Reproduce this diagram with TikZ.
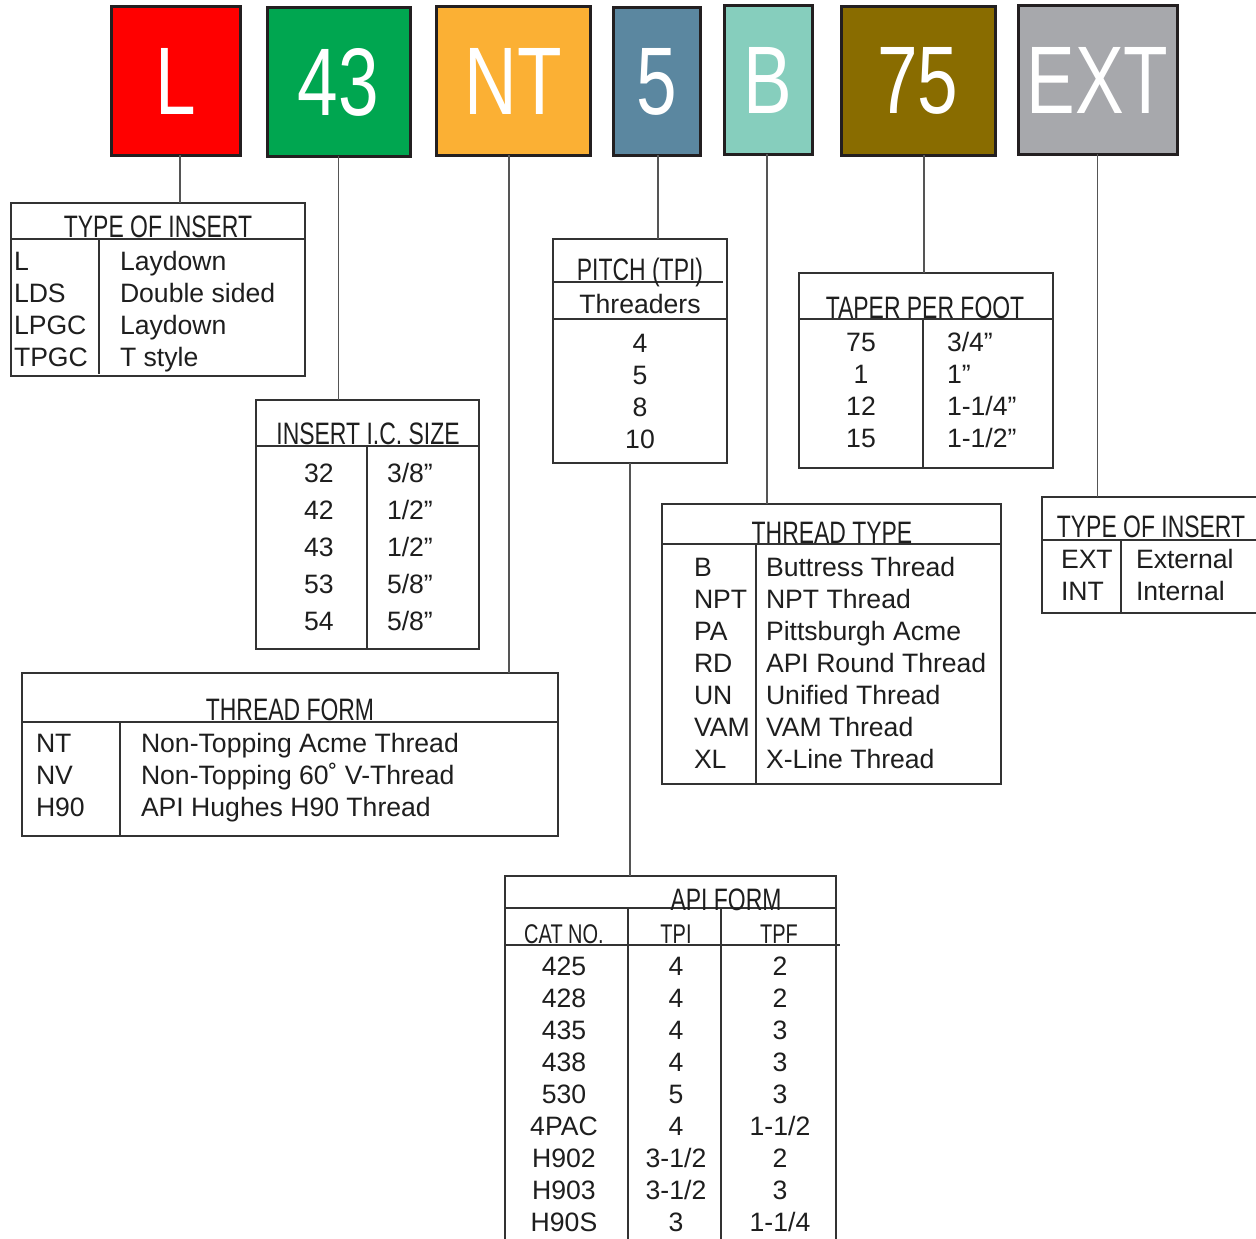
\documentclass[tikz,border=0pt]{standalone}
\usepackage{fontspec}
\setmainfont{Liberation Sans}
\newfontfamily\condfont[FakeStretch=0.74]{Liberation Sans}
\newfontfamily\bigfont[FakeStretch=0.76]{Liberation Sans}
\definecolor{cL}{HTML}{FF0000}
\definecolor{cFT}{HTML}{00A650}
\definecolor{cNT}{HTML}{FBB034}
\definecolor{cFV}{HTML}{5B87A0}
\definecolor{cB}{HTML}{86CEBD}
\definecolor{cSF}{HTML}{896C00}
\definecolor{cEXT}{HTML}{A7A8AC}
\definecolor{boxedge}{HTML}{231F20}
\definecolor{tbledge}{HTML}{333333}
\definecolor{connc}{HTML}{555555}
\definecolor{ink}{HTML}{1E1E1E}
\begin{document}
\begin{tikzpicture}[x=1pt,y=-1pt,
  every node/.style={inner sep=0pt, outer sep=0pt},
  topbox/.style={draw=boxedge, line width=3pt, text=white, font=\bigfont\fontsize{96}{96}\selectfont},
  tbl/.style={draw=tbledge, line width=1.3pt, anchor=north west},
  rule/.style={draw=tbledge, line width=1.3pt},
  conn/.style={draw=connc, line width=1.3pt},
  ttl/.style={anchor=base, font=\condfont\fontsize{31}{31}\selectfont, text=ink},
  subttl/.style={anchor=base, font=\condfont\fontsize{27}{27}\selectfont, text=ink},
  cell/.style={anchor=base, font=\fontsize{26.6}{26.6}\selectfont, text=ink},
  cellw/.style={cell, anchor=base west},
]
\useasboundingbox (0,0) rectangle (1256,1239);
\clip (0,0) rectangle (1256,1239);
\fill[white] (0,0) rectangle (1256,1239);

% ---- top code boxes ----
\node[topbox, fill=cL,   minimum width=129pt, minimum height=148pt] (bL)   at (175.5,81) {L};
\node[topbox, fill=cFT,  minimum width=143pt, minimum height=148pt] (bFT)  at (338.5,82) {43};
\node[topbox, fill=cNT,  minimum width=154pt, minimum height=148pt] (bNT)  at (513,81)   {NT};
\node[topbox, fill=cFV,  minimum width=87pt,  minimum height=147pt] (bFV)  at (656.5,81.5) {5};
\node[topbox, fill=cB,   minimum width=88pt,  minimum height=148pt] (bB)   at (768,80)   {B};
\node[topbox, fill=cSF,  minimum width=154pt, minimum height=148pt] (bSF)  at (918,81)   {75};
\node[topbox, fill=cEXT, minimum width=159pt, minimum height=148pt] (bEXT) at (1097.5,80) {EXT};

% ---- TYPE OF INSERT (left) ----
\node[tbl, minimum width=294pt, minimum height=173pt] (tIns) at (11,203) {};
\draw[rule] (11,239) -- (305,239);
\draw[rule] (99,239) -- (99,374);
\node[ttl] (tInsT) at (158,237) {TYPE OF INSERT};
\node[cellw] (tIns1a) at (14,270) {L};     \node[cellw] (tIns1b) at (120,270) {Laydown};
\node[cellw] (tIns2a) at (14,302) {LDS};   \node[cellw] (tIns2b) at (120,302) {Double sided};
\node[cellw] (tIns3a) at (14,334) {LPGC};  \node[cellw] (tIns3b) at (120,334) {Laydown};
\node[cellw] (tIns4a) at (14,366) {TPGC};  \node[cellw] (tIns4b) at (120,366) {T style};

% ---- INSERT I.C. SIZE ----
\node[tbl, minimum width=223pt, minimum height=249pt] (tIC) at (256,400) {};
\draw[rule] (256,446) -- (479,446);
\draw[rule] (367,446) -- (367,649);
\node[ttl] (tICT) at (368,444) {INSERT I.C. SIZE};
\node[cell]  (tIC1a) at (319,482) {32};  \node[cellw] (tIC1b) at (387,482) {3/8”};
\node[cell]  (tIC2a) at (319,519) {42};  \node[cellw] (tIC2b) at (387,519) {1/2”};
\node[cell]  (tIC3a) at (319,556) {43};  \node[cellw] (tIC3b) at (387,556) {1/2”};
\node[cell]  (tIC4a) at (319,593) {53};  \node[cellw] (tIC4b) at (387,593) {5/8”};
\node[cell]  (tIC5a) at (319,630) {54};  \node[cellw] (tIC5b) at (387,630) {5/8”};

% ---- PITCH (TPI) ----
\node[tbl, minimum width=174pt, minimum height=224pt] (tP) at (553,239) {};
\draw[rule] (553,282) -- (723,282);
\draw[rule] (553,319) -- (728,319);
\node[ttl] (tPT) at (640,280) {PITCH (TPI)};
\node[cell] (tPS) at (640,313) {Threaders};
\node[cell] (tP1) at (640,352) {4};
\node[cell] (tP2) at (640,384) {5};
\node[cell] (tP3) at (640,416) {8};
\node[cell] (tP4) at (640,448) {10};

% ---- TAPER PER FOOT ----
\node[tbl, minimum width=254pt, minimum height=195pt] (tT) at (799,273) {};
\draw[rule] (799,319) -- (1053,319);
\draw[rule] (923,319) -- (923,468);
\node[ttl] (tTT) at (925,318) {TAPER PER FOOT};
\node[cell] (tT1a) at (861,351) {75};  \node[cellw] (tT1b) at (947,351) {3/4”};
\node[cell] (tT2a) at (861,383) {1};   \node[cellw] (tT2b) at (947,383) {1”};
\node[cell] (tT3a) at (861,415) {12};  \node[cellw] (tT3b) at (947,415) {1-1/4”};
\node[cell] (tT4a) at (861,447) {15};  \node[cellw] (tT4b) at (947,447) {1-1/2”};

% ---- THREAD TYPE ----
\node[tbl, minimum width=339pt, minimum height=280pt] (tTh) at (662,504) {};
\draw[rule] (662,544) -- (1001,544);
\draw[rule] (756,544) -- (756,784);
\node[ttl] (tThT) at (832,543) {THREAD TYPE};
\node[cellw] (tTh1a) at (694,576) {B};    \node[cellw] (tTh1b) at (766,576) {Buttress Thread};
\node[cellw] (tTh2a) at (694,608) {NPT};  \node[cellw] (tTh2b) at (766,608) {NPT Thread};
\node[cellw] (tTh3a) at (694,640) {PA};   \node[cellw] (tTh3b) at (766,640) {Pittsburgh Acme};
\node[cellw] (tTh4a) at (694,672) {RD};   \node[cellw] (tTh4b) at (766,672) {API Round Thread};
\node[cellw] (tTh5a) at (694,704) {UN};   \node[cellw] (tTh5b) at (766,704) {Unified Thread};
\node[cellw] (tTh6a) at (694,736) {VAM};  \node[cellw] (tTh6b) at (766,736) {VAM Thread};
\node[cellw] (tTh7a) at (694,768) {XL};   \node[cellw] (tTh7b) at (766,768) {X-Line Thread};

% ---- TYPE OF INSERT (right) ----
\node[tbl, minimum width=230pt, minimum height=116pt] (tEI) at (1042,497) {};
\draw[rule] (1042,540) -- (1256,540);
\draw[rule] (1121,540) -- (1121,613);
\node[ttl] (tEIT) at (1151,537) {TYPE OF INSERT};
\node[cellw] (tEI1a) at (1061,568) {EXT};  \node[cellw] (tEI1b) at (1136,568) {External};
\node[cellw] (tEI2a) at (1061,600) {INT};  \node[cellw] (tEI2b) at (1136,600) {Internal};

% ---- THREAD FORM ----
\node[tbl, minimum width=536pt, minimum height=163pt] (tF) at (22,673) {};
\draw[rule] (22,722) -- (558,722);
\draw[rule] (120,722) -- (120,836);
\node[ttl] (tFT) at (290,720) {THREAD FORM};
\node[cellw] (tF1a) at (36,752) {NT};   \node[cellw] (tF1b) at (141,752) {Non-Topping Acme Thread};
\node[cellw] (tF2a) at (36,784) {NV};   \node[cellw] (tF2b) at (141,784) {Non-Topping 60˚ V-Thread};
\node[cellw] (tF3a) at (36,816) {H90};  \node[cellw] (tF3b) at (141,816) {API Hughes H90 Thread};

% ---- API FORM ----
\node[tbl, minimum width=331pt, minimum height=380pt] (tA) at (505,876) {};
\draw[rule] (505,908) -- (836,908);
\draw[rule] (505,945) -- (840,945);
\draw[rule] (628,908) -- (628,1256);
\draw[rule] (721,908) -- (721,1256);
\node[ttl] (tAT) at (726,910) {API FORM};
\node[subttl] (tAH1) at (564,943) {CAT NO.};
\node[subttl] (tAH2) at (676,943) {TPI};
\node[subttl] (tAH3) at (779,943) {TPF};
\foreach \c/\t/\f [count=\i from 0] in {425/4/2, 428/4/2, 435/4/3, 438/4/3, 530/5/3, 4PAC/4/{1-1/2}, H902/{3-1/2}/2, H903/{3-1/2}/3, H90S/3/{1-1/4}}{
  \node[cell] (tAr\i a) at (564,975+32*\i) {\c};
  \node[cell] (tAr\i b) at (676,975+32*\i) {\t};
  \node[cell] (tAr\i c) at (780,975+32*\i) {\f};
}

% ---- connectors ----
\draw[conn] ([xshift=4.5pt]bL.south) -- ([xshift=4.5pt]bL.south |- tIns.north);
\draw[conn] (bFT.south) -- (bFT.south |- tIC.north);
\draw[conn] ([xshift=-4pt]bNT.south) -- ([xshift=-4pt]bNT.south |- tF.north);
\draw[conn] ([xshift=1.5pt]bFV.south) -- ([xshift=1.5pt]bFV.south |- tP.north);
\draw[conn] ([xshift=-1pt]bB.south) -- ([xshift=-1pt]bB.south |- tTh.north);
\draw[conn] ([xshift=6pt]bSF.south) -- ([xshift=6pt]bSF.south |- tT.north);
\draw[conn] (bEXT.south) -- (bEXT.south |- tEI.north);
\draw[conn] ([xshift=-10pt]tP.south) -- ([xshift=-10pt]tP.south |- tA.north);
\end{tikzpicture}
\end{document}
